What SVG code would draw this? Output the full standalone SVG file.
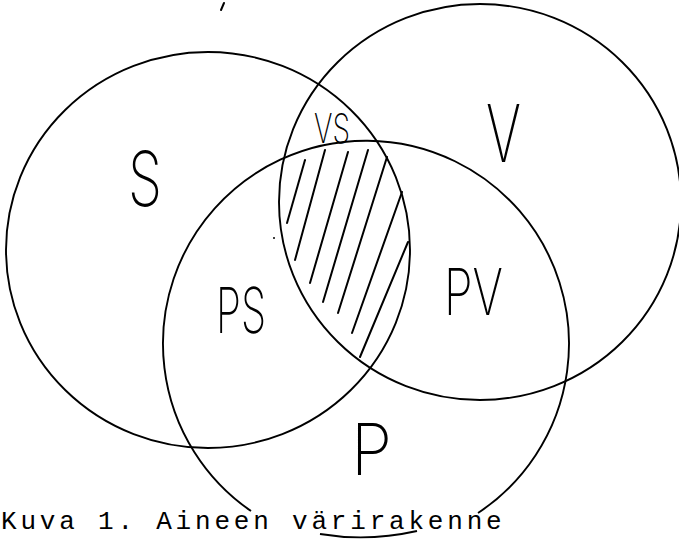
<svg xmlns="http://www.w3.org/2000/svg" width="679" height="541" viewBox="0 0 679 541">
<style>
.c{fill:none;stroke:#000;stroke-width:1.9}
.h{fill:none;stroke:#000;stroke-width:2;stroke-linecap:round}
.lbl{font-family:"Inter","Roboto","DejaVu Sans",sans-serif;font-weight:200;fill:#000}
.cap{font-family:"Liberation Mono","DejaVu Sans Mono",monospace;font-size:26px;letter-spacing:3.8px;fill:#000}
</style>
<rect width="679" height="541" fill="#fff"/>
<g id="circles">
<g id="circle-S"><ellipse class="c" cx="208" cy="250" rx="202" ry="198"/></g>
<g id="circle-V"><ellipse class="c" cx="480" cy="202" rx="201" ry="198"/></g>
<g id="circle-P"><path class="c" d="M 251 511 A 203 203 0 1 1 478 513"/></g>
</g>
<g id="hatch">
<line class="h" x1="305" y1="160" x2="287" y2="223"/>
<line class="h" x1="325" y1="150" x2="295" y2="260"/>
<line class="h" x1="348" y1="152" x2="310" y2="283"/>
<line class="h" x1="368" y1="150" x2="323" y2="302"/>
<line class="h" x1="387" y1="157" x2="338" y2="313"/>
<line class="h" x1="402" y1="192" x2="352" y2="333"/>
<line class="h" x1="408" y1="242" x2="360" y2="357"/>
</g>
<g id="marks">
<line class="h" x1="224" y1="3" x2="221" y2="10" stroke-width="1.5"/>
<circle cx="274" cy="238" r="1" fill="#000"/>
</g>
<g id="labels">
<text class="lbl" x="128" y="206" font-size="76" textLength="34" lengthAdjust="spacingAndGlyphs">S</text>
<text class="lbl" x="486" y="162" font-size="80" textLength="35" lengthAdjust="spacingAndGlyphs">V</text>
<text class="lbl" x="314" y="143" font-size="41" font-weight="300" textLength="36" lengthAdjust="spacingAndGlyphs">VS</text>
<text class="lbl" x="216" y="333" font-size="63" textLength="50" lengthAdjust="spacingAndGlyphs">PS</text>
<text class="lbl" x="444" y="315" font-size="64" textLength="59" lengthAdjust="spacingAndGlyphs">PV</text>
<text class="lbl" x="351" y="475" font-size="71" textLength="41" lengthAdjust="spacingAndGlyphs">P</text>
</g>
<g id="caption">
<text class="cap" x="1" y="529">Kuva 1. Aineen värirakenne</text>
<path class="c" d="M 320 534 Q 368 542 417 531"/>
</g>
</svg>
